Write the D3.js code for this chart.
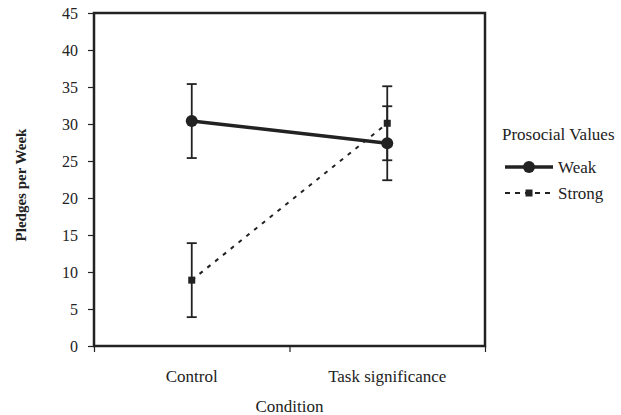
<!DOCTYPE html>
<html>
<head>
<meta charset="utf-8">
<script src="https://cdn.jsdelivr.net/npm/d3@7"></script>
<style>
  body { margin: 0; background: #fff; }
  text { font-family: "Liberation Serif", "Times New Roman", serif; fill: #222; }
</style>
</head>
<body>
<div id="chart"></div>
<script>
const conditions = ["Control", "Task significance"];
const weakValues = [30.4, 27.4];
const weakErr = [5.0, 5.0];
const strongValues = [8.9, 30.1];
const strongErr = [5.0, 5.0];
const yTicks = [0, 5, 10, 15, 20, 25, 30, 35, 40, 45];

const W = 621, H = 415;
const margin = { top: 13, right: 136, bottom: 69, left: 94 };
const width = W - margin.left - margin.right;
const height = H - margin.top - margin.bottom;
const ink = "#222";

const svg = d3.select("#chart").append("svg")
    .attr("width", W).attr("height", H);
const g = svg.append("g").attr("transform", `translate(${margin.left},${margin.top})`);

const x = d3.scaleBand().domain(conditions).range([0, width]);
const y = d3.scaleLinear().domain([0, 45]).range([height, 0]);
const cx = c => x(c) + x.bandwidth() / 2;

// frame
g.append("rect").attr("width", width).attr("height", height)
    .attr("fill", "none").attr("stroke", ink).attr("stroke-width", 2.5);

// y axis
const yAxis = g.append("g").call(d3.axisLeft(y).tickValues(yTicks).tickSize(6).tickSizeOuter(0));
yAxis.select(".domain").remove();
yAxis.selectAll("line").attr("stroke", ink).attr("stroke-width", 1.2);
yAxis.selectAll("text").attr("font-size", 16).attr("x", -16).style("fill", ink);

// x axis: ticks at category boundaries
const xb = d3.scaleLinear().domain([0, conditions.length]).range([0, width]);
const xAxis = g.append("g").attr("transform", `translate(0,${height})`)
    .call(d3.axisBottom(xb).tickValues(d3.range(conditions.length + 1)).tickSize(6).tickFormat(""));
xAxis.select(".domain").remove();
xAxis.selectAll("line").attr("stroke", ink).attr("stroke-width", 1.2);

g.selectAll(".cat").data(conditions).join("text")
    .attr("x", d => cx(d)).attr("y", height + 36)
    .attr("text-anchor", "middle").attr("font-size", 17).text(d => d);

g.append("text").attr("x", width / 2).attr("y", height + 66)
    .attr("text-anchor", "middle").attr("font-size", 17).text("Condition");

svg.append("text")
    .attr("transform", `translate(26,185) rotate(-90)`)
    .attr("text-anchor", "middle").attr("font-size", 15).attr("font-weight", "bold")
    .text("Pledges per Week");

const series = [
  { name: "Weak", values: weakValues, err: weakErr, width: 3.5, dash: null, marker: "circle" },
  { name: "Strong", values: strongValues, err: strongErr, width: 2, dash: "4,6", marker: "square" }
];

// error bars
series.forEach(s => {
  conditions.forEach((c, i) => {
    const v = s.values[i], e = s.err[i];
    const eg = g.append("g").attr("stroke", ink).attr("stroke-width", 1.8);
    eg.append("line").attr("x1", cx(c)).attr("x2", cx(c)).attr("y1", y(v - e)).attr("y2", y(v + e));
    [v - e, v + e].forEach(t => eg.append("line")
        .attr("x1", cx(c) - 5).attr("x2", cx(c) + 5).attr("y1", y(t)).attr("y2", y(t)));
  });
});

// lines
const line = d3.line().x((d, i) => cx(conditions[i])).y(d => y(d));
series.forEach(s => {
  g.append("path").datum(s.values)
      .attr("fill", "none").attr("stroke", ink).attr("stroke-width", s.width)
      .attr("stroke-dasharray", s.dash).attr("d", line);
});

function drawMarker(sel, type, px, py) {
  if (type === "circle") {
    sel.append("circle").attr("cx", px).attr("cy", py).attr("r", 6).attr("fill", ink);
  } else {
    sel.append("rect").attr("x", px - 3.5).attr("y", py - 3.5).attr("width", 7).attr("height", 7).attr("fill", ink);
  }
}
series.forEach(s => {
  s.values.forEach((v, i) => drawMarker(g, s.marker, cx(conditions[i]), y(v)));
});

// legend
const lg = svg.append("g").attr("transform", "translate(502,0)");
lg.append("text").attr("x", 0).attr("y", 140).attr("font-size", 17).text("Prosocial Values");
series.forEach((s, i) => {
  const ly = 167 + i * 26;
  lg.append("line").attr("x1", 3).attr("x2", 51).attr("y1", ly).attr("y2", ly)
      .attr("stroke", ink).attr("stroke-width", s.width).attr("stroke-dasharray", s.dash ? "5,5" : null);
  drawMarker(lg, s.marker, 27, ly);
  lg.append("text").attr("x", 56).attr("y", ly + 6).attr("font-size", 17).text(s.name);
});
</script>
</body>
</html>
